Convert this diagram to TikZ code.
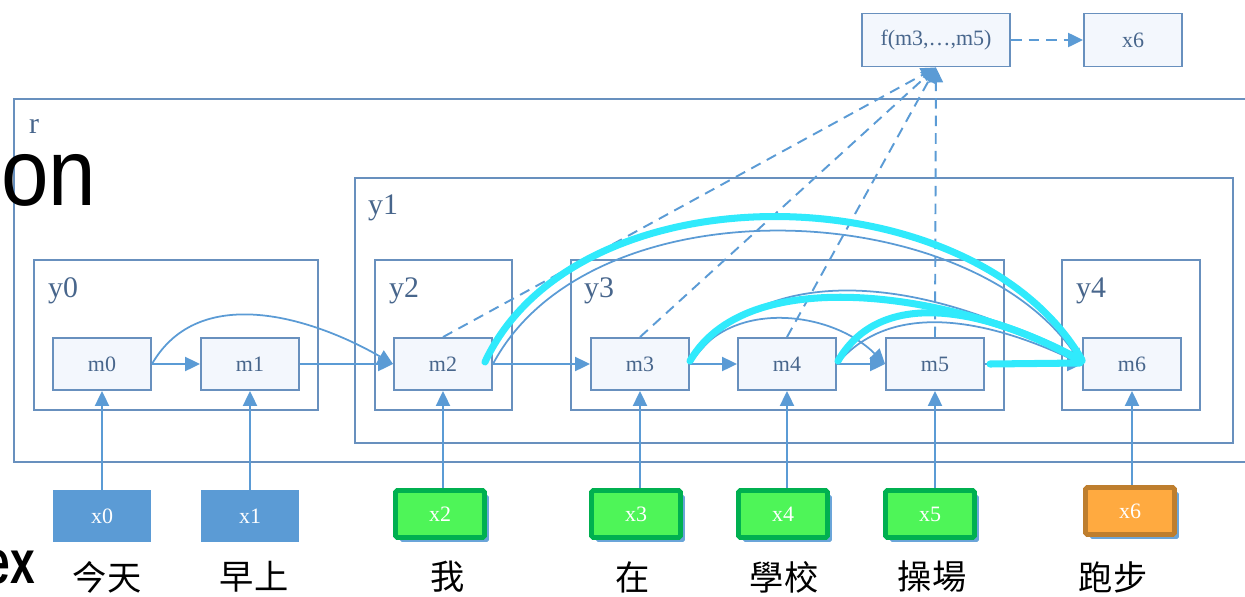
\documentclass[tikz,border=0pt]{standalone}
\usepackage{fontspec}
\setmainfont{Liberation Serif}
\newfontfamily\cjkfont{Noto Sans CJK TC}
\newfontfamily\slidefont{Liberation Sans}
\usetikzlibrary{arrows.meta,shadows,calc}

\definecolor{frameblue}{RGB}{104,144,190}
\definecolor{linkblue}{RGB}{91,155,213}
\definecolor{textblue}{RGB}{72,102,140}
\definecolor{cellfill}{RGB}{243,247,253}
\definecolor{glowcyan}{RGB}{48,234,252}
\definecolor{wordgreen}{RGB}{78,245,88}
\definecolor{wordgreenline}{RGB}{0,176,80}
\definecolor{wordorange}{RGB}{255,170,64}
\definecolor{wordorangeline}{RGB}{190,126,46}

\tikzset{
  group/.style={draw=frameblue, line width=1.1pt, inner sep=0pt},
  grouplabel/.style={text=textblue, font=\fontsize{17}{19}\selectfont, inner sep=0pt},
  cell/.style={draw=frameblue, line width=1.1pt, fill=cellfill, inner sep=0pt,
    minimum width=1.96cm, minimum height=1.04cm, text=textblue,
    font=\fontsize{12.5}{14}\selectfont},
  word/.style={inner sep=0pt, text=white, font=\fontsize{12.5}{14}\selectfont},
  oldword/.style={word, fill=linkblue, draw=linkblue, line width=0.5pt,
    minimum width=1.94cm, minimum height=1.02cm},
  newword/.style={word, fill=wordgreen, draw=wordgreenline, line width=2.8pt,
    minimum width=1.78cm, minimum height=0.94cm, rounded corners=1pt,
    drop shadow={shadow xshift=2.5pt, shadow yshift=-2.5pt, fill=linkblue, opacity=0.9}},
  goalword/.style={newword, fill=wordorange, draw=wordorangeline},
  gloss/.style={font=\cjkfont\fontsize{19.5}{21}\selectfont, inner sep=0pt},
  link/.style={color=linkblue, line width=1pt, -{Triangle[length=8.5pt,width=8pt]}},
  feed/.style={link, line width=1.1pt, dash pattern=on 6pt off 4pt},
  glow/.style={draw=glowcyan, line width=4pt, line cap=round},
}

\begin{document}
\begin{tikzpicture}[x=0.02cm,y=-0.02cm]
\useasboundingbox (0,0) rectangle (1245,596);

% nested groups
\node[group, minimum width=24.96cm, minimum height=7.26cm] (r) at (638,280.5) {};
\node[group, minimum width=17.56cm, minimum height=5.3cm] (y1) at (794,310.5) {};
\node[group, minimum width=5.68cm, minimum height=3cm] (y0) at (176,335) {};
\node[group, minimum width=2.74cm, minimum height=3cm] (y2) at (443.5,335) {};
\node[group, minimum width=8.66cm, minimum height=3cm] (y3) at (787.5,335) {};
\node[group, minimum width=2.76cm, minimum height=3cm] (y4) at (1131,335) {};

\node[grouplabel] (rname) at (34,126) {r};
\node[grouplabel] (y1name) at (383,208) {y1};
\node[grouplabel] (y0name) at (63,291) {y0};
\node[grouplabel] (y2name) at (404,291) {y2};
\node[grouplabel] (y3name) at (599,291) {y3};
\node[grouplabel] (y4name) at (1091,291) {y4};

% memory cells
\node[cell] (m0) at (102,364) {m0};
\node[cell] (m1) at (250,364) {m1};
\node[cell] (m2) at (443,364) {m2};
\node[cell] (m3) at (640,364) {m3};
\node[cell] (m4) at (787,364) {m4};
\node[cell] (m5) at (935,364) {m5};
\node[cell] (m6) at (1132,364) {m6};

% prediction on top
\node[cell, minimum width=2.96cm, minimum height=1.06cm] (f) at (936,40) {f(m3,\dots,m5)};
\node[cell, minimum height=1.06cm] (xnext) at (1133,40) {x6};

% input words
\node[oldword] (x0) at (102,516) {x0};
\node[oldword] (x1) at (250,516) {x1};
\node[newword] (x2) at (440,514) {x2};
\node[newword] (x3) at (636,514) {x3};
\node[newword] (x4) at (783,514) {x4};
\node[newword] (x5) at (930,514) {x5};
\node[goalword] (x6) at (1130,511) {x6};

\node[gloss] (g0) at (107,577) {今天};
\node[gloss] (g1) at (254,577) {早上};
\node[gloss] (g2) at (448,577) {我};
\node[gloss] (g3) at (633,577) {在};
\node[gloss] (g4) at (784,577) {學校};
\node[gloss] (g5) at (932,577) {操場};
\node[gloss] (g6) at (1113,577) {跑步};

% links
\foreach \i in {0,...,6}
  \draw[link] (m\i.south |- x\i.north) -- (m\i.south);
\foreach \a/\b in {0/1,1/2,2/3,3/4,4/5,5/6}
  \draw[link] (m\a) -- (m\b);
\draw[link] (m0.east) to[out=60,in=150] (m2.west);
\draw[link] (m3.east) to[out=60,in=135] (m5.west);
\draw[link] (m2.east) to[out=62,in=125,looseness=0.9] (m6.west);
\draw[link] (m3.east) to[out=55,in=150,looseness=0.95] (m6.west);
\draw[link] (m4.east) to[out=50,in=155,looseness=0.95] (m6.west);

\foreach \i in {2,...,5}
  \draw[feed] (m\i.north) -- (f.south);
\draw[feed] (f) -- (xnext);

% highlighted paths
\draw[glow] ($(m2.east)+(-8,-2)$) to[out=65,in=120,looseness=0.93] ($(m6.west)+(0,-4)$);
\draw[glow] ($(m3.east)+(0,-3)$) to[out=60,in=150,looseness=0.8] ($(m6.west)+(0,-3)$);
\draw[glow] ($(m4.east)+(1,-3)$) to[out=60,in=150,looseness=0.98] ($(m6.west)+(-2,-3)$);
\draw[glow] ($(m5.east)+(5,0)$) -- ($(m6.west)+(-2,-1)$);

% slide text at the edges
\node[font=\slidefont\fontsize{54}{58}\selectfont, anchor=base west, inner sep=0pt] (on) at (1,205) {\scalebox{0.9}[1]{on}};
\node[font=\slidefont\bfseries\fontsize{35}{40}\selectfont, anchor=base east, inner sep=0pt] (ex) at (35,583) {\scalebox{0.72}[1]{ex}};

\end{tikzpicture}
\end{document}
